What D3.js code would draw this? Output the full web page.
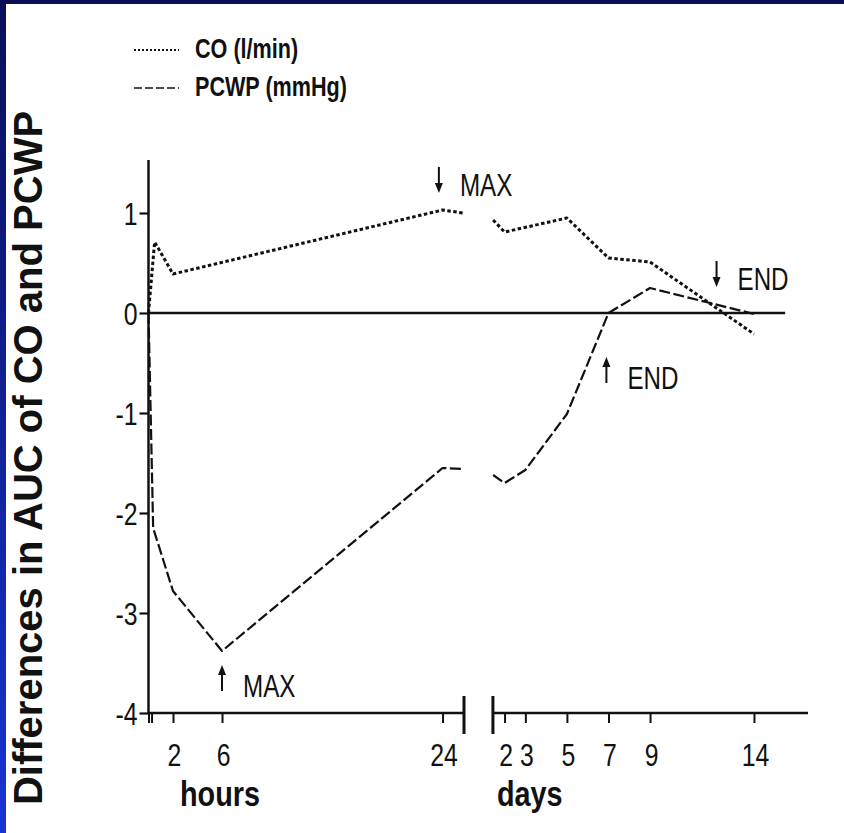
<!DOCTYPE html>
<html>
<head>
<meta charset="utf-8">
<script src="https://cdn.jsdelivr.net/npm/d3@7"></script>
<style>
  html, body { margin: 0; padding: 0; background: #fff; }
  svg { display: block; }
  text { font-family: "Liberation Sans", Arial, Helvetica, sans-serif; }
</style>
</head>
<body>
<svg id="chart" width="844" height="833"></svg>
<script>
// ---- data ----
const yTicks = [-4, -3, -2, -1, 0, 1];

const hourTicks = [0, 0.25, 2, 6, 24];
const hourTickLabels = ["", "", "2", "6", "24"];
const dayTicks = [2, 3, 5, 7, 9, 14];
const dayTickLabels = ["2", "3", "5", "7", "9", "14"];

// cardiac output, first 24 hours (x = hours)
const coHours = [[0, 0], [0.5, 0.71], [2, 0.39], [24, 1.03], [25.7, 1.0]];
// cardiac output, following days (x = days)
const coDays = [[1.45, 0.93], [2, 0.81], [5, 0.95], [7, 0.55], [9, 0.51], [14, -0.21]];

// wedge pressure, first 24 hours
const pcwpHours = [[0, 0], [0.38, -2.15], [2, -2.78], [6, -3.38], [24, -1.55], [25.7, -1.56]];
// wedge pressure, following days
const pcwpDays = [[1.45, -1.62], [2, -1.7], [3, -1.57], [5, -1.01], [7, 0], [9, 0.25], [14, -0.01]];

// event markers: label, time unit, x, y value of arrow tip, arrow direction
const markers = [
  { text: "MAX", unit: "hours", x: 23.7, y: 1.2,   dir: "down" },
  { text: "MAX", unit: "hours", x: 6,    y: -3.52, dir: "up" },
  { text: "END", unit: "days",  x: 12.2, y: 0.26,  dir: "down" },
  { text: "END", unit: "days",  x: 6.9,  y: -0.44, dir: "up" }
];

const legendItems = [
  { label: "CO (l/min)",   dash: "3.5,2.5", width: 3 },
  { label: "PCWP (mmHg)",  dash: "11,3.5",  width: 2.2 }
];

// ---- drawing ----
const svg = d3.select("#chart");
const ink = "#111";
const SX = 0.8; // horizontal squeeze for the condensed lettering

// place a text element at (x, y) with condensed glyphs
function condensed(sel, x, y, sx = SX) {
  sel.attr("x", 0).attr("y", 0).attr("dy", null)
     .attr("transform", `translate(${x},${y}) scale(${sx},1)`);
  return sel;
}

const defs = svg.append("defs");
const grad = defs.append("linearGradient")
  .attr("id", "frame").attr("x1", 0).attr("y1", 0).attr("x2", 0).attr("y2", 1);
grad.append("stop").attr("offset", "0%").attr("stop-color", "#0b0e58");
grad.append("stop").attr("offset", "100%").attr("stop-color", "#1834d4");

svg.append("rect").attr("width", 844).attr("height", 833).attr("fill", "url(#frame)");
svg.append("rect").attr("x", 6).attr("y", 4).attr("width", 838).attr("height", 829).attr("fill", "#fff");

const y = d3.scaleLinear().domain([-4, 1.53]).range([713, 160]);
const xh = d3.scaleLinear().domain([0, 25.75]).range([148.5, 464]);
const xd = d3.scaleLinear().domain([0, 16.6]).range([463, 808]);
const xOf = (unit, v) => unit === "hours" ? xh(v) : xd(v);

// zero reference line
svg.append("line")
  .attr("x1", xh(0)).attr("x2", xd(15.5))
  .attr("y1", y(0)).attr("y2", y(0))
  .attr("stroke", ink).attr("stroke-width", 2.6);

// y axis
const yAxis = svg.append("g")
  .attr("transform", `translate(${xh(0)},0)`)
  .call(d3.axisLeft(y).tickValues(yTicks).tickSize(9).tickPadding(3).tickSizeOuter(0));
yAxis.select(".domain").remove();
yAxis.append("line").attr("y1", y(-4)).attr("y2", y(1.53)).attr("stroke", ink).attr("stroke-width", 2.5);
yAxis.selectAll(".tick line").attr("stroke", ink).attr("stroke-width", 2.2);
yAxis.selectAll(".tick text")
  .attr("font-size", 31).attr("fill", ink)
  .text(d => d < 0 ? "-" + Math.abs(d) : d)
  .each(function () { condensed(d3.select(this), -11, 11); });

// x axis: hours segment
const hAxis = svg.append("g")
  .attr("transform", `translate(0,${y(-4)})`)
  .call(d3.axisBottom(xh).tickValues(hourTicks).tickSize(10).tickSizeOuter(0)
    .tickFormat((d, i) => hourTickLabels[i]));
hAxis.select(".domain").remove();
hAxis.append("line").attr("x1", xh(0)).attr("x2", xh(25.75)).attr("stroke", ink).attr("stroke-width", 2.5);

// x axis: days segment
const dAxis = svg.append("g")
  .attr("transform", `translate(0,${y(-4)})`)
  .call(d3.axisBottom(xd).tickValues(dayTicks).tickSize(10).tickSizeOuter(0)
    .tickFormat((d, i) => dayTickLabels[i]));
dAxis.select(".domain").remove();
dAxis.append("line").attr("x1", xd(1.44)).attr("x2", xd(16.6)).attr("stroke", ink).attr("stroke-width", 2.5);

[hAxis, dAxis].forEach(g => {
  g.selectAll(".tick line").attr("stroke", ink).attr("stroke-width", 2);
  g.selectAll(".tick text")
    .attr("font-size", 31).attr("fill", ink)
    .each(function () { condensed(d3.select(this), 1, 53); });
});

// axis break marks
[xh(25.75), xd(1.44)].forEach(bx => {
  svg.append("line")
    .attr("x1", bx).attr("x2", bx)
    .attr("y1", y(-4) - 17).attr("y2", y(-4) + 21)
    .attr("stroke", ink).attr("stroke-width", 3);
});

// unit labels
condensed(svg.append("text"), 180, 806)
  .attr("font-size", 36).attr("font-weight", "bold").attr("fill", ink)
  .text("hours");
condensed(svg.append("text"), 497, 806)
  .attr("font-size", 36).attr("font-weight", "bold").attr("fill", ink)
  .text("days");

// y axis title
svg.append("text")
  .attr("transform", "translate(42,458) rotate(-90)")
  .attr("text-anchor", "middle")
  .attr("font-weight", "bold").attr("font-size", 40).attr("fill", ink)
  .text("Differences in AUC of CO and PCWP");

// series lines
const lineH = d3.line().x(d => xh(d[0])).y(d => y(d[1]));
const lineD = d3.line().x(d => xd(d[0])).y(d => y(d[1]));

function drawSeries(data, gen, style) {
  svg.append("path")
    .datum(data)
    .attr("d", gen)
    .attr("fill", "none")
    .attr("stroke", ink)
    .attr("stroke-width", style.width)
    .attr("stroke-dasharray", style.dash)
    .attr("stroke-linejoin", "round");
}
drawSeries(coHours, lineH, legendItems[0]);
drawSeries(coDays, lineD, legendItems[0]);
drawSeries(pcwpHours, lineH, legendItems[1]);
drawSeries(pcwpDays, lineD, legendItems[1]);

// event markers (arrow + label)
markers.forEach(m => {
  const ax = xOf(m.unit, m.x);
  const tip = y(m.y);
  const len = 26;
  const s = m.dir === "down" ? -1 : 1;   // tail sits above (down arrow) or below (up arrow)
  const tail = tip + s * len;
  svg.append("line")
    .attr("x1", ax).attr("x2", ax).attr("y1", tail).attr("y2", tip + s * 6)
    .attr("stroke", ink).attr("stroke-width", 2);
  svg.append("path")
    .attr("d", `M${ax},${tip} L${ax - 4},${tip + s * 10} L${ax + 4},${tip + s * 10} Z`)
    .attr("fill", ink);
  const baseY = m.dir === "down" ? tip + 3 : tip + 32;
  condensed(svg.append("text"), ax + 21, baseY, 0.78)
    .attr("font-size", 31).attr("fill", ink)
    .text(m.text);
});

// legend
const lg = svg.append("g");
legendItems.forEach((it, i) => {
  const ly = 50 + i * 38;
  lg.append("line")
    .attr("x1", 134).attr("x2", 179).attr("y1", ly).attr("y2", ly)
    .attr("stroke", ink).attr("stroke-width", i === 0 ? 1.8 : 1.6)
    .attr("stroke-dasharray", i === 0 ? "2,2" : "8,3");
  condensed(lg.append("text"), 195, ly + 8)
    .attr("font-size", 27).attr("font-weight", "bold").attr("fill", ink)
    .text(it.label);
});
</script>
</body>
</html>
